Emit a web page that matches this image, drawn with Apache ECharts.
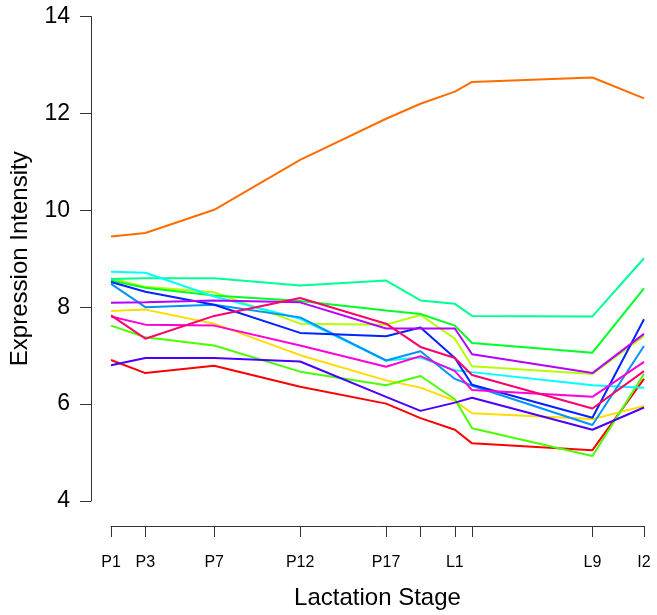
<!DOCTYPE html>
<html>
<head>
<meta charset="utf-8">
<script src="https://cdn.jsdelivr.net/npm/echarts@6/dist/echarts.min.js"></script>
<style>
html,body{margin:0;padding:0;background:#fff;}
#chart{width:657px;height:615px;}
</style>
</head>
<body>
<div id="chart"></div>
<script>
// Stage positions (days) and tick labels
const stageX = [1, 3, 7, 12, 17, 19, 21, 22, 29, 32];
const tickValues = [1, 3, 7, 12, 17, 19, 21, 22, 29, 32];
const labelValues = [1, 3, 7, 12, 17, 21, 29, 32];
const labelNames = ['P1', 'P3', 'P7', 'P12', 'P17', 'L1', 'L9', 'I2'];
const yTicks = [4, 6, 8, 10, 12, 14];

// Expression intensity per gene (one array per line)
const red         = [6.91, 6.64, 6.79, 6.36, 6.01, 5.71, 5.47, 5.19, 5.05, 6.52];
const orange      = [9.46, 9.53, 10.01, 11.04, 11.89, 12.20, 12.45, 12.65, 12.74, 12.31];
const yellow      = [7.92, 7.95, 7.66, 7.01, 6.49, 6.34, 6.07, 5.81, 5.69, 5.96];
const yellowGreen = [8.60, 8.42, 8.31, 7.66, 7.64, 7.84, 7.35, 6.78, 6.62, 7.40];
const lightGreen  = [7.62, 7.38, 7.21, 6.67, 6.39, 6.58, 6.10, 5.50, 4.93, 6.62];
const green       = [8.55, 8.40, 8.24, 8.13, 7.93, 7.86, 7.62, 7.26, 7.06, 8.39];
const springGreen = [8.58, 8.60, 8.60, 8.45, 8.55, 8.14, 8.07, 7.82, 7.81, 9.01];
const cyan        = [8.73, 8.71, 8.22, 7.76, 6.90, 6.96, 6.70, 6.66, 6.39, 6.34];
const skyBlue     = [8.48, 8.00, 8.05, 7.79, 6.90, 7.09, 6.52, 6.38, 5.57, 7.20];
const blue        = [8.52, 8.32, 8.05, 7.47, 7.40, 7.58, 6.95, 6.40, 5.72, 7.75];
const indigo      = [6.80, 6.95, 6.95, 6.88, 6.15, 5.86, 6.03, 6.13, 5.47, 5.93];
const purple      = [8.09, 8.10, 8.14, 8.10, 7.56, 7.56, 7.56, 7.03, 6.64, 7.45];
const magenta     = [7.81, 7.64, 7.62, 7.21, 6.77, 6.99, 6.68, 6.29, 6.15, 6.87];
const crimson     = [7.83, 7.35, 7.82, 8.19, 7.66, 7.18, 6.95, 6.60, 5.91, 6.68];

const seriesData = [red, orange, yellow, yellowGreen, lightGreen, green, springGreen,
                    cyan, skyBlue, blue, indigo, purple, magenta, crimson];
const seriesColors = ['#FF0000', '#FF6D00', '#FFDB00', '#B6FF00', '#49FF00', '#00FF24', '#00FF92',
                      '#00FFFF', '#0092FF', '#0024FF', '#4900FF', '#B600FF', '#FF00DB', '#FF006D'];

const FONT = '"Liberation Sans", Arial, Helvetica, sans-serif';
const chart = echarts.init(document.getElementById('chart'), null, {renderer: 'canvas'});

chart.setOption({
  animation: false,
  backgroundColor: '#ffffff',
  grid: {left: 109, right: 13, top: 16.5, bottom: 112, containLabel: false},
  xAxis: {
    type: 'value',
    min: 1, max: 32,
    offset: 25,
    splitLine: {show: false},
    axisLine: {show: true, lineStyle: {color: '#333', width: 1}},
    axisTick: {show: true, length: 11, lineStyle: {color: '#333', width: 1}, customValues: tickValues},
    axisLabel: {
      customValues: labelValues,
      margin: 29,
      fontSize: 16,
      fontFamily: FONT,
      color: '#000',
      formatter: function (v) { const i = labelValues.indexOf(v); return i >= 0 ? labelNames[i] : ''; }
    },
    name: 'Lactation Stage',
    nameLocation: 'middle',
    nameGap: 60,
    nameTextStyle: {fontSize: 24, fontFamily: FONT, color: '#000'}
  },
  yAxis: {
    type: 'value',
    min: 4, max: 14, interval: 2,
    offset: 20,
    splitLine: {show: false},
    axisLine: {show: true, lineStyle: {color: '#333', width: 1}},
    axisTick: {show: true, length: 11, lineStyle: {color: '#333', width: 1}},
    axisLabel: {
      customValues: yTicks,
      margin: 21,
      fontSize: 23,
      fontFamily: FONT,
      color: '#000'
    },
    name: 'Expression Intensity',
    nameLocation: 'middle',
    nameGap: 59,
    nameTextStyle: {fontSize: 24, fontFamily: FONT, color: '#000'}
  },
  series: seriesData.map(function (vals, k) {
    return {
      type: 'line',
      data: stageX.map(function (x, i) { return [x, vals[i]]; }),
      symbol: 'none',
      smooth: false,
      lineStyle: {color: seriesColors[k], width: 2},
      itemStyle: {color: seriesColors[k]},
      z: 2
    };
  })
});
</script>
</body>
</html>
